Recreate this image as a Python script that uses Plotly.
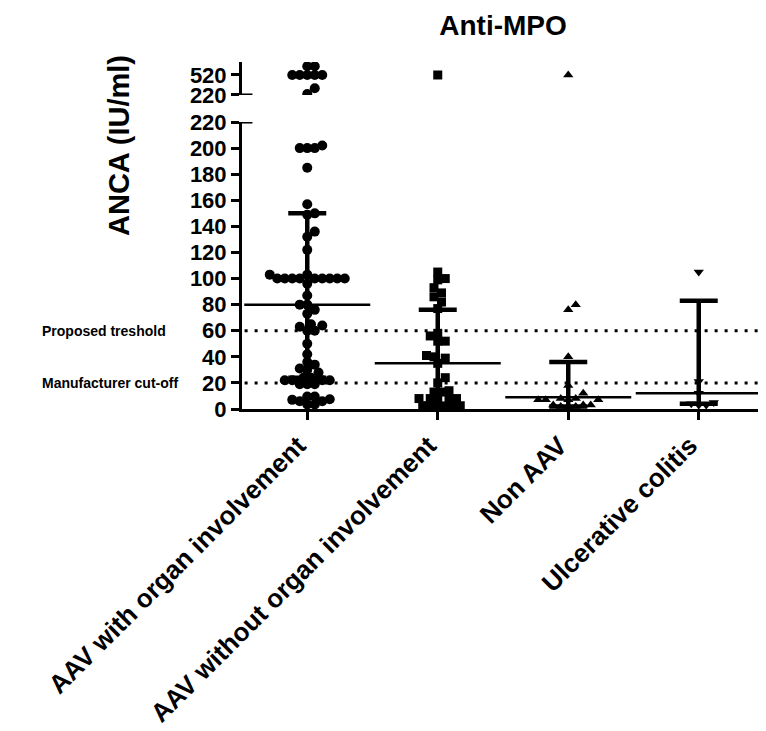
import plotly.graph_objects as go

# Anti-MPO ANCA levels (IU/ml) per patient group
categories = ["AAV with organ involvement", "AAV without organ involvement",
              "Non AAV", "Ulcerative colitis"]

aav_organ = [650, 650, 520, 520, 520, 520, 520, 320, 235,
             202, 200, 200, 200, 185, 157, 150, 149, 136, 132, 122,
             103, 103, 100, 100, 100, 100, 100, 100, 100, 100, 100, 96, 87,
             80, 80, 76, 73, 65, 64, 63, 60, 60, 50, 42, 36, 34, 31, 30, 28,
             24, 24, 22, 22, 22, 22, 19, 19, 19, 9.5, 9.5, 7.5, 7, 6, 6, 3.5, 3.5]
aav_no_organ = [520, 105, 100, 99, 93, 89, 86, 82, 77, 58, 56, 52, 52, 41, 40, 39,
                35, 24, 20, 14, 13, 13, 8, 8, 8, 7.5, 7.5, 2.5, 2.5, 2, 2, 2, 1.5]
non_aav = [520, 80, 76, 40, 18, 12, 8, 8, 7, 7, 7, 7, 3, 3, 3, 2, 2, 1]
ulc_colitis = [105, 21, 12, 5, 4, 3, 3]

medians = [80, 35, 9, 12]
q1 = [24, 4, 2, 4]
q3 = [150, 76, 36, 83]

thresholds = [60, 20]
threshold_labels = ["Proposed treshold", "Manufacturer cut-off"]

main_ticks = list(range(0, 221, 20))
top_ticks = [220, 520]

# layout geometry (pixels); the page body adds an 8px offset
OFF = 8
W, H = 766 - OFF, 731 - OFF
ML, MR, MT, MB = 242 - OFF, 2, 62 - OFF, 731 - 409
plot_w = W - ML - MR
plot_h = H - MT - MB
main_dom = [0, 0.827]
top_dom = [0.905, 1.0]
main_rng = [0, 220]
top_rng = [220, 715]
x_rng = [-0.5, 3.5]
px_per_x = plot_w / (x_rng[1] - x_rng[0])


def y_px(v):
    if v <= main_rng[1]:
        return (v - main_rng[0]) / (main_rng[1] - main_rng[0]) * main_dom[1] * plot_h
    frac = (v - top_rng[0]) / (top_rng[1] - top_rng[0])
    return (top_dom[0] + frac * (top_dom[1] - top_dom[0])) * plot_h


def swarm(vals, diam):
    # simple beeswarm: put each point at the nearest free horizontal slot
    placed = []
    out = []
    step = diam / 2
    for v in sorted(vals):
        y = y_px(v)
        k = 0
        found = None
        while found is None:
            cands = [0] if k == 0 else [k * step, -k * step]
            for c in cands:
                if all((c - px) ** 2 + (y - py) ** 2 >= diam ** 2 for px, py in placed):
                    found = c
                    break
            k += 1
        placed.append((found, y))
        out.append((v, found / px_per_x))
    return out


def page_x(px):
    return (px - OFF - ML) / plot_w


def page_y(py):
    return (MT + plot_h - (py - OFF)) / plot_h


groups = [aav_organ, aav_no_organ, non_aav, ulc_colitis]
symbols = ["circle", "square", "triangle-up", "triangle-down"]
sizes = [10, 9, 9, 9]

fig = go.Figure()

for i, vals in enumerate(groups):
    pts = swarm(vals, 7.5)
    low = [(v, o) for v, o in pts if v <= 220]
    high = [(v, o) for v, o in pts if v > 220]
    for sub, ax in [(low, "y"), (high, "y2")]:
        if not sub:
            continue
        fig.add_trace(go.Scatter(
            x=[i + o for v, o in sub], y=[v for v, o in sub], yaxis=ax,
            mode="markers",
            marker=dict(symbol=symbols[i], size=sizes[i], color="black"),
            showlegend=False, hoverinfo="y"))

# median with interquartile range
fig.add_trace(go.Scatter(
    x=list(range(len(categories))), y=medians, mode="markers",
    marker=dict(symbol="line-ew", size=90, line=dict(width=2.5, color="black")),
    error_y=dict(type="data", symmetric=False,
                 array=[b - m for b, m in zip(q3, medians)],
                 arrayminus=[m - a for a, m in zip(q1, medians)],
                 thickness=4.5, width=19, color="black"),
    showlegend=False, hoverinfo="skip"))

font_fam = "Liberation Sans, Arial, sans-serif"

shapes = []
for t in thresholds:
    shapes.append(dict(type="line", xref="x domain", x0=0.005, x1=1, yref="y", y0=t, y1=t,
                       line=dict(color="black", width=3, dash="3px,7px")))
# axis break marks
for ax in ["y", "y2"]:
    shapes.append(dict(type="line", xref="x domain", x0=0, x1=0.02, yref=ax, y0=220, y1=220,
                       line=dict(color="black", width=3)))

annotations = []
for t, lab in zip(thresholds, threshold_labels):
    annotations.append(dict(text="<b>" + lab + "</b>", x=page_x(40), xref="paper",
                            xanchor="left", y=t, yref="y", yanchor="middle", showarrow=False,
                            font=dict(size=14, family=font_fam, color="black")))
annotations.append(dict(text="<b>ANCA (IU/ml)</b>", textangle=-90, x=page_x(119),
                        xref="paper", xanchor="center", y=page_y(146), yref="paper",
                        yanchor="middle", showarrow=False,
                        font=dict(size=29, family=font_fam, color="black")))

axis_common = dict(showline=True, linecolor="black", linewidth=3, ticks="outside",
                   ticklen=8, tickwidth=3, tickcolor="black", showgrid=False, zeroline=False,
                   automargin=False,
                   tickfont=dict(size=22, family=font_fam, color="black", weight="bold"))

fig.update_layout(
    width=W, height=H,
    margin=dict(l=ML, r=MR, t=MT, b=MB, autoexpand=False),
    paper_bgcolor="white", plot_bgcolor="white",
    title=dict(text="<b>Anti-MPO</b>", x=0.5, xref="paper", xanchor="center",
               y=1 - (25 - OFF) / H, yref="container", yanchor="middle",
               font=dict(size=28, family=font_fam, color="black")),
    xaxis=dict(range=x_rng, tickvals=list(range(len(categories))), ticktext=categories,
               tickangle=-45, showline=True, linecolor="black", linewidth=3,
               ticks="outside", ticklen=8, tickwidth=3, tickcolor="black",
               showgrid=False, zeroline=False, anchor="y", automargin=False,
               ticklabelshift=-9,
               tickfont=dict(size=26, family=font_fam, color="black", weight="bold")),
    yaxis=dict(domain=main_dom, range=main_rng, tickvals=main_ticks, **axis_common),
    yaxis2=dict(domain=top_dom, range=top_rng, tickvals=top_ticks, anchor="x", **axis_common),
    shapes=shapes, annotations=annotations,
)

fig.write_html("out.html")
